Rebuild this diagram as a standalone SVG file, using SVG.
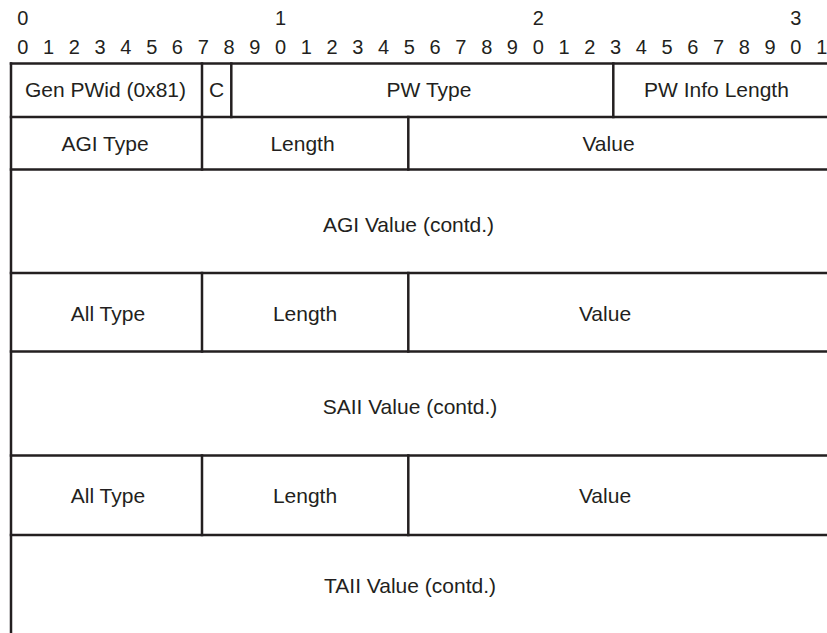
<svg xmlns="http://www.w3.org/2000/svg" width="827" height="633" viewBox="0 0 827 633">
<style>
.bg{fill:#ffffff}
.ln{stroke:#231f20;stroke-width:2.5;fill:none;stroke-linecap:square}
.bit{font-family:"Liberation Sans",Arial,sans-serif;font-size:20px;fill:#231f20;text-anchor:middle}
.lbl{font-family:"Liberation Sans",Arial,sans-serif;font-size:21px;fill:#231f20;text-anchor:middle}
</style>
<rect class="bg" x="0" y="0" width="827" height="633"/>
<g id="ruler">
<text class="bit" x="22.8" y="25">0</text>
<text class="bit" x="280.5" y="25">1</text>
<text class="bit" x="538.2" y="25">2</text>
<text class="bit" x="795.9" y="25">3</text>
<text class="bit" y="53.5"><tspan x="22.8">0</tspan><tspan x="48.6">1</tspan><tspan x="74.3">2</tspan><tspan x="100.1">3</tspan><tspan x="125.9">4</tspan><tspan x="151.7">5</tspan><tspan x="177.4">6</tspan><tspan x="203.2">7</tspan><tspan x="229">8</tspan><tspan x="254.7">9</tspan><tspan x="280.5">0</tspan><tspan x="306.3">1</tspan><tspan x="332">2</tspan><tspan x="357.8">3</tspan><tspan x="383.6">4</tspan><tspan x="409.4">5</tspan><tspan x="435.1">6</tspan><tspan x="460.9">7</tspan><tspan x="486.7">8</tspan><tspan x="512.4">9</tspan><tspan x="538.2">0</tspan><tspan x="564">1</tspan><tspan x="589.7">2</tspan><tspan x="615.5">3</tspan><tspan x="641.3">4</tspan><tspan x="667.1">5</tspan><tspan x="692.8">6</tspan><tspan x="718.6">7</tspan><tspan x="744.4">8</tspan><tspan x="770.1">9</tspan><tspan x="795.9">0</tspan><tspan x="821.7">1</tspan></text>
</g>
<g id="grid">
<path class="ln" d="M11 63.5H828M11 117H828M11 169.5H828M11 273H828M11 351.5H828M11 455.5H828M11 535H828"/>
<path class="ln" d="M11 63.5V634"/>
<path class="ln" d="M202 63.5V117M231.3 63.5V117M613.3 63.5V117"/>
<path class="ln" d="M202 117V169.5M408.3 117V169.5"/>
<path class="ln" d="M202 273V351.5M408.3 273V351.5"/>
<path class="ln" d="M202 455.5V535M408.3 455.5V535"/>
</g>
<g id="gen-pwid"><text class="lbl" x="105.5" y="97">Gen PWid (0x81)</text></g>
<g id="c-bit"><text class="lbl" x="216.5" y="97">C</text></g>
<g id="pw-type"><text class="lbl" x="429" y="97">PW Type</text></g>
<g id="pw-info-length"><text class="lbl" x="716.5" y="97">PW Info Length</text></g>
<g id="agi-type"><text class="lbl" x="105" y="151">AGI Type</text></g>
<g id="agi-length"><text class="lbl" x="302.5" y="151">Length</text></g>
<g id="agi-value"><text class="lbl" x="608.5" y="151">Value</text></g>
<g id="agi-value-contd"><text class="lbl" x="408.5" y="232">AGI Value (contd.)</text></g>
<g id="saii-type"><text class="lbl" x="108" y="320.5">All Type</text></g>
<g id="saii-length"><text class="lbl" x="305" y="320.5">Length</text></g>
<g id="saii-value"><text class="lbl" x="605" y="320.5">Value</text></g>
<g id="saii-value-contd"><text class="lbl" x="410" y="414">SAII Value (contd.)</text></g>
<g id="taii-type"><text class="lbl" x="108" y="503">All Type</text></g>
<g id="taii-length"><text class="lbl" x="305" y="503">Length</text></g>
<g id="taii-value"><text class="lbl" x="605" y="503">Value</text></g>
<g id="taii-value-contd"><text class="lbl" x="410" y="593">TAII Value (contd.)</text></g>
</svg>
